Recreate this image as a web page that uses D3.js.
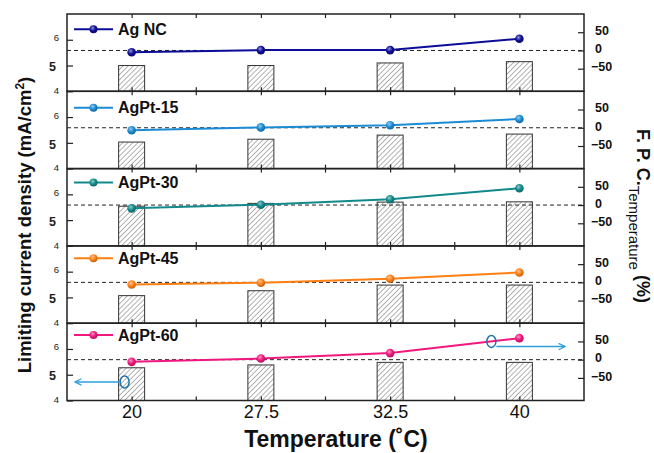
<!DOCTYPE html>
<html lang="en">
<head>
<meta charset="utf-8">
<title>Limiting current density and F.P.C. vs temperature</title>
<script src="https://cdn.jsdelivr.net/npm/d3@7"></script>
<style>
  body { margin: 0; background: #fff; }
  svg { font-family: "Liberation Sans", Arial, sans-serif; }
  .frame { fill: none; stroke: #222; stroke-width: 1.5; }
  .axis path { display: none; }
  .axis line { stroke: #222; stroke-width: 1.2; }
</style>
</head>
<body>
<script>
// ---- data ----
var temps = ["20", "27.5", "32.5", "40"];
var samples = ["Ag NC", "AgPt-15", "AgPt-30", "AgPt-45", "AgPt-60"];
var colors = ["#0c0c98", "#1b8bd3", "#12898a", "#ff7f12", "#f2177f"];

// limiting current density (mA/cm2), left axis -> hatched bars
var jlAgNC   = [5.00, 5.00, 5.10, 5.15];
var jlAgPt15 = [5.03, 5.14, 5.30, 5.34];
var jlAgPt30 = [5.54, 5.65, 5.70, 5.71];
var jlAgPt45 = [5.07, 5.26, 5.48, 5.48];
var jlAgPt60 = [5.27, 5.38, 5.48, 5.48];

// F.P.C. (%), right axis -> lines with markers
var fpcAgNC   = [-5, 1, 1, 32];
var fpcAgPt15 = [-7, 1, 7, 24];
var fpcAgPt30 = [-9, 1, 16, 46];
var fpcAgPt45 = [-6, -1, 10, 27];
var fpcAgPt60 = [-6, 3, 18, 59];

var leftTicks = [4, 5, 6];
var rightTicks = [-50, 0, 50];

var jlSeries = [jlAgNC, jlAgPt15, jlAgPt30, jlAgPt45, jlAgPt60];
var fpcSeries = [fpcAgNC, fpcAgPt15, fpcAgPt30, fpcAgPt45, fpcAgPt60];

// ---- layout ----
var w = 654, h = 453;
var pLeft = 67, pRight = 584, pTop = 14, panelH = 77.3;
var legendDy = [15.3, 16.4, 14, 12.4, 11.8];

var svg = d3.select("body").append("svg")
    .attr("width", w)
    .attr("height", h);

var defs = svg.append("defs");

// hatch for the bars
var hatch = defs.append("pattern")
    .attr("id", "hatch")
    .attr("patternUnits", "userSpaceOnUse")
    .attr("width", 3.6)
    .attr("height", 3.6)
    .attr("patternTransform", "rotate(45)");
hatch.append("rect").attr("width", 3.6).attr("height", 3.6).attr("fill", "#fff");
hatch.append("line")
    .attr("x1", 0).attr("y1", 0).attr("x2", 0).attr("y2", 3.6)
    .attr("stroke", "#555").attr("stroke-width", 0.9);

// shaded ball markers
colors.forEach(function(c, i) {
    var g = defs.append("radialGradient")
        .attr("id", "ball" + i)
        .attr("cx", "40%").attr("cy", "35%").attr("r", "65%");
    g.append("stop").attr("offset", "0%").attr("stop-color", d3.interpolateRgb(c, "#fff")(0.55));
    g.append("stop").attr("offset", "55%").attr("stop-color", c);
    g.append("stop").attr("offset", "100%").attr("stop-color", d3.rgb(c).darker(0.8));
});

var arrowBlue = "#2c9fdb";
var m = defs.append("marker")
    .attr("id", "arr")
    .attr("viewBox", "0 0 10 10")
    .attr("refX", 9).attr("refY", 5)
    .attr("markerWidth", 8).attr("markerHeight", 8)
    .attr("markerUnits", "userSpaceOnUse")
    .attr("orient", "auto");
m.append("path").attr("d", "M1,1 L9,5 L1,9")
    .attr("fill", "none").attr("stroke", arrowBlue).attr("stroke-width", 1.6);

var x = d3.scalePoint().domain(temps).range([pLeft, pRight]).padding(0.5);
var step = x.step();
var minorX = temps.slice(0, -1).map(function(d) { return x(d) + step / 2; });

var panelScales = [];

samples.forEach(function(name, i) {
    var y0 = pTop + i * panelH, y1 = y0 + panelH;
    var yL = d3.scaleLinear().domain([4, 7]).range([y1, y0]);
    var yR = d3.scaleLinear().domain([-112, 100]).range([y1, y0]);
    panelScales.push({ yL: yL, yR: yR });
    var g = svg.append("g");

    // bars
    g.selectAll("rect.bar")
        .data(jlSeries[i])
        .enter()
        .append("rect")
        .attr("class", "bar")
        .attr("x", function(d, k) { return x(temps[k]) - 13; })
        .attr("width", 26)
        .attr("y", function(d) { return yL(d); })
        .attr("height", function(d) { return y1 - yL(d); })
        .attr("fill", "url(#hatch)")
        .attr("stroke", "#333")
        .attr("stroke-width", 1);

    // zero line
    g.append("line")
        .attr("x1", pLeft).attr("x2", pRight)
        .attr("y1", yR(0)).attr("y2", yR(0))
        .attr("stroke", "#222").attr("stroke-width", 1)
        .attr("stroke-dasharray", "4,3");

    // F.P.C. line + markers
    var line = d3.line()
        .x(function(d, k) { return x(temps[k]); })
        .y(function(d) { return yR(d); });
    g.append("path")
        .datum(fpcSeries[i])
        .attr("d", line)
        .attr("fill", "none")
        .attr("stroke", colors[i])
        .attr("stroke-width", 2);
    g.selectAll("circle.pt")
        .data(fpcSeries[i])
        .enter()
        .append("circle")
        .attr("class", "pt")
        .attr("cx", function(d, k) { return x(temps[k]); })
        .attr("cy", function(d) { return yR(d); })
        .attr("r", 4.3)
        .attr("fill", "url(#ball" + i + ")");

    // legend
    var ly = y0 + legendDy[i];
    g.append("line")
        .attr("x1", 74).attr("x2", 113).attr("y1", ly).attr("y2", ly)
        .attr("stroke", colors[i]).attr("stroke-width", 2);
    g.append("circle")
        .attr("cx", 93.5).attr("cy", ly).attr("r", 4)
        .attr("fill", "url(#ball" + i + ")");
    g.append("text")
        .attr("x", 118).attr("y", ly + 5.7)
        .attr("font-size", 16).attr("font-weight", "bold")
        .attr("fill", "#111")
        .text(name);

    // x ticks top and bottom (inward), majors and minors
    g.append("g").attr("class", "axis")
        .attr("transform", "translate(0," + y1 + ")")
        .call(d3.axisBottom(x).tickSizeInner(-4).tickSizeOuter(0).tickFormat(""));
    g.append("g").attr("class", "axis")
        .attr("transform", "translate(0," + y0 + ")")
        .call(d3.axisTop(x).tickSizeInner(-4).tickSizeOuter(0).tickFormat(""));
    g.selectAll("line.minor")
        .data(minorX)
        .enter()
        .append("line")
        .attr("class", "minor")
        .attr("x1", function(d) { return d; }).attr("x2", function(d) { return d; })
        .attr("y1", y1).attr("y2", y1 - 4)
        .attr("stroke", "#222").attr("stroke-width", 1.2);
    g.selectAll("line.minorT")
        .data(minorX)
        .enter()
        .append("line")
        .attr("class", "minorT")
        .attr("x1", function(d) { return d; }).attr("x2", function(d) { return d; })
        .attr("y1", y0).attr("y2", y0 + 4)
        .attr("stroke", "#222").attr("stroke-width", 1.2);

    // left axis
    var la = g.append("g").attr("class", "axis")
        .attr("transform", "translate(" + pLeft + ",0)")
        .call(d3.axisLeft(yL).tickValues(leftTicks).tickFormat(d3.format("d"))
            .tickSizeInner(-6).tickSizeOuter(0).tickPadding(8));
    la.selectAll("text")
        .attr("fill", "#222")
        .attr("font-family", "'Liberation Sans', Arial, sans-serif")
        .attr("font-size", function(d) { return d === 5 ? 12.5 : 9.5; })
        .attr("font-weight", function(d) { return d === 5 ? "bold" : "normal"; })
        .attr("dx", function(d) { return d === 5 ? -3 : 0; })
        .attr("dy", function(d) { return d === 6 ? "0.1em" : (d === 4 ? "0.25em" : "0.42em"); });

    // right axis
    var ra = g.append("g").attr("class", "axis")
        .attr("transform", "translate(" + pRight + ",0)")
        .call(d3.axisRight(yR).tickValues(rightTicks).tickSizeInner(-6).tickSizeOuter(0).tickPadding(11));
    ra.selectAll("text")
        .attr("fill", "#111")
        .attr("font-family", "'Liberation Sans', Arial, sans-serif")
        .attr("font-size", 12.5)
        .attr("font-weight", "bold")
        .attr("dx", function(d) { return d < 0 ? -4 : 0; })
        .attr("dy", "0.18em");

    // frame
    g.append("rect")
        .attr("class", "frame")
        .attr("x", pLeft).attr("y", y0)
        .attr("width", pRight - pLeft).attr("height", panelH);
});

// x tick labels under the last panel
var pBottom = pTop + samples.length * panelH;
var xa = svg.append("g").attr("class", "axis")
    .attr("transform", "translate(0," + pBottom + ")")
    .call(d3.axisBottom(x).tickSize(0).tickPadding(5));
xa.selectAll("text")
    .attr("font-family", "'Liberation Sans', Arial, sans-serif")
    .attr("font-size", 18)
    .attr("fill", "#111");

// axis titles
svg.append("text")
    .attr("x", 336).attr("y", 447)
    .attr("text-anchor", "middle")
    .attr("font-size", 23).attr("font-weight", "bold")
    .attr("fill", "#111")
    .text("Temperature (\u02DAC)");

var yt = svg.append("text")
    .attr("transform", "translate(31,225) rotate(-90)")
    .attr("text-anchor", "middle")
    .attr("font-size", 18.5).attr("font-weight", "bold")
    .attr("fill", "#111");
yt.append("tspan").text("Limiting current density (mA/cm");
yt.append("tspan").attr("dy", -7).attr("font-size", 12).text("2");
yt.append("tspan").attr("dy", 7).text(")");

var rt = svg.append("text")
    .attr("transform", "translate(637,129) rotate(90)")
    .attr("text-anchor", "start")
    .attr("font-size", 18).attr("font-weight", "bold")
    .attr("fill", "#111");
rt.append("tspan").text("F. P. C.");
rt.append("tspan").attr("dy", 8).attr("font-size", 15).attr("font-weight", "normal").text("Temperature");
rt.append("tspan").attr("dy", -8).text(" (%)");

// blue annotations in the last panel
var s5 = panelScales[4];
svg.append("ellipse")
    .attr("cx", x("20") - 7).attr("cy", s5.yL(4.72))
    .attr("rx", 4.5).attr("ry", 6)
    .attr("fill", "none").attr("stroke", "#1f74a8").attr("stroke-width", 1.5);
svg.append("line")
    .attr("x1", x("20") - 12).attr("x2", 75)
    .attr("y1", s5.yL(4.72)).attr("y2", s5.yL(4.72))
    .attr("stroke", arrowBlue).attr("stroke-width", 1.6)
    .attr("marker-end", "url(#arr)");
svg.append("ellipse")
    .attr("cx", x("40") - 28).attr("cy", s5.yR(50))
    .attr("rx", 4.5).attr("ry", 6)
    .attr("fill", "none").attr("stroke", "#1f74a8").attr("stroke-width", 1.5);
svg.append("line")
    .attr("x1", x("40") - 23).attr("x2", 565)
    .attr("y1", s5.yR(36)).attr("y2", s5.yR(36))
    .attr("stroke", arrowBlue).attr("stroke-width", 1.6)
    .attr("marker-end", "url(#arr)");
</script>
</body>
</html>
